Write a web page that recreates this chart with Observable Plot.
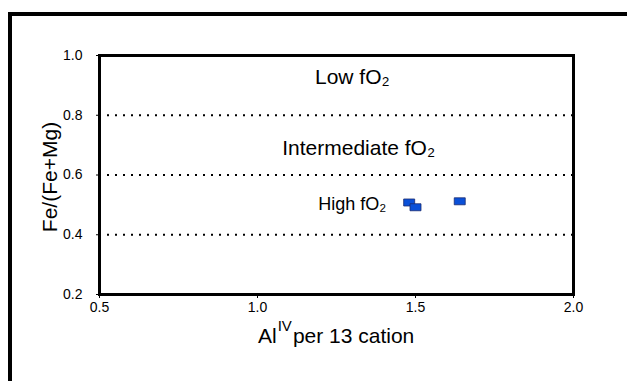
<!DOCTYPE html>
<html>
<head>
<meta charset="utf-8">
<script src="https://cdn.jsdelivr.net/npm/d3@7"></script>
<script src="https://cdn.jsdelivr.net/npm/@observablehq/plot@0.6"></script>
<style>
  html, body { margin: 0; padding: 0; background: #fff; overflow: hidden; }
  #wrap { position: relative; width: 627px; height: 381px; overflow: hidden; }
  #border { position: absolute; left: 8px; top: 12px; width: 640px; height: 400px; border: 4px solid #000; box-sizing: border-box; }
  #chart { position: absolute; left: 0; top: 0; }
  svg { font-family: "Liberation Sans", Arial, sans-serif; }
</style>
</head>
<body>
<div id="wrap"><div id="border"></div><div id="chart"></div></div>
<script>
// Data
const alIV = [1.48, 1.50, 1.64];
const feRatio = [0.508, 0.492, 0.512];
const boundaryLevels = [0.8, 0.6, 0.4];
const zoneLabels = ["Low fO₂", "Intermediate fO₂", "High fO₂"];
const zoneX = [1.30, 1.32, 1.30];
const zoneY = [0.926, 0.689, 0.501];
const zoneSize = [21, 21, 18];
const xTicks = [0.5, 1.0, 1.5, 2.0];
const yTicks = [0.2, 0.4, 0.6, 0.8, 1.0];

const points = alIV.map((x, i) => ({x, y: feRatio[i]}));
const zones = zoneLabels.map((t, i) => ({t, x: zoneX[i], y: zoneY[i], s: zoneSize[i]}));

const rectSymbol = {
  draw(context) {
    context.moveTo(-5.5, -3.5);
    context.lineTo(5.5, -3.5);
    context.lineTo(5.5, 3.5);
    context.lineTo(-5.5, 3.5);
    context.closePath();
  }
};

const plot = Plot.plot({
  width: 627,
  height: 381,
  marginLeft: 99,
  marginRight: 54,
  marginTop: 55,
  marginBottom: 87,
  style: {fontFamily: "Liberation Sans, Arial, sans-serif", fontSize: "14px", color: "#000", background: "transparent"},
  x: {domain: [0.5, 2.0]},
  y: {domain: [0.2, 1.0]},
  marks: [
    Plot.ruleY(boundaryLevels, {stroke: "#000", strokeWidth: 2.2, strokeDasharray: "2,6"}),
    Plot.frame({stroke: "#000", strokeWidth: 3}),
    Plot.axisX({ticks: xTicks, tickFormat: d3.format(".1f"), tickSize: 4, tickPadding: 4, label: null, fontSize: 14}),
    Plot.axisY({ticks: yTicks, tickFormat: d3.format(".1f"), tickSize: 3, tickPadding: 14, label: null, fontSize: 14}),
    Plot.dot(points, {x: "x", y: "y", symbol: rectSymbol, r: 4.5, fill: "#0a50d8", stroke: "#1b2b70", strokeWidth: 0.8}),
    Plot.text(zones, {x: "x", y: "y", text: "t", fontSize: "s", fill: "#000", textAnchor: "middle"})
  ]
});
document.getElementById("chart").appendChild(plot);

// Axis titles
const svg = d3.select(plot);
svg.append("text")
  .attr("transform", "translate(57,177) rotate(-90)")
  .attr("text-anchor", "middle")
  .attr("font-size", 21)
  .attr("fill", "#000")
  .text("Fe/(Fe+Mg)");
const xt = svg.append("text")
  .attr("x", 258).attr("y", 343)
  .attr("text-anchor", "start")
  .attr("font-size", 21)
  .attr("fill", "#000");
xt.append("tspan").text("Al");
xt.append("tspan").attr("dx", 1).attr("dy", -12).attr("font-size", 15).text("IV");
xt.append("tspan").attr("dx", 1).attr("dy", 12).text("per 13 cation");
</script>
</body>
</html>
